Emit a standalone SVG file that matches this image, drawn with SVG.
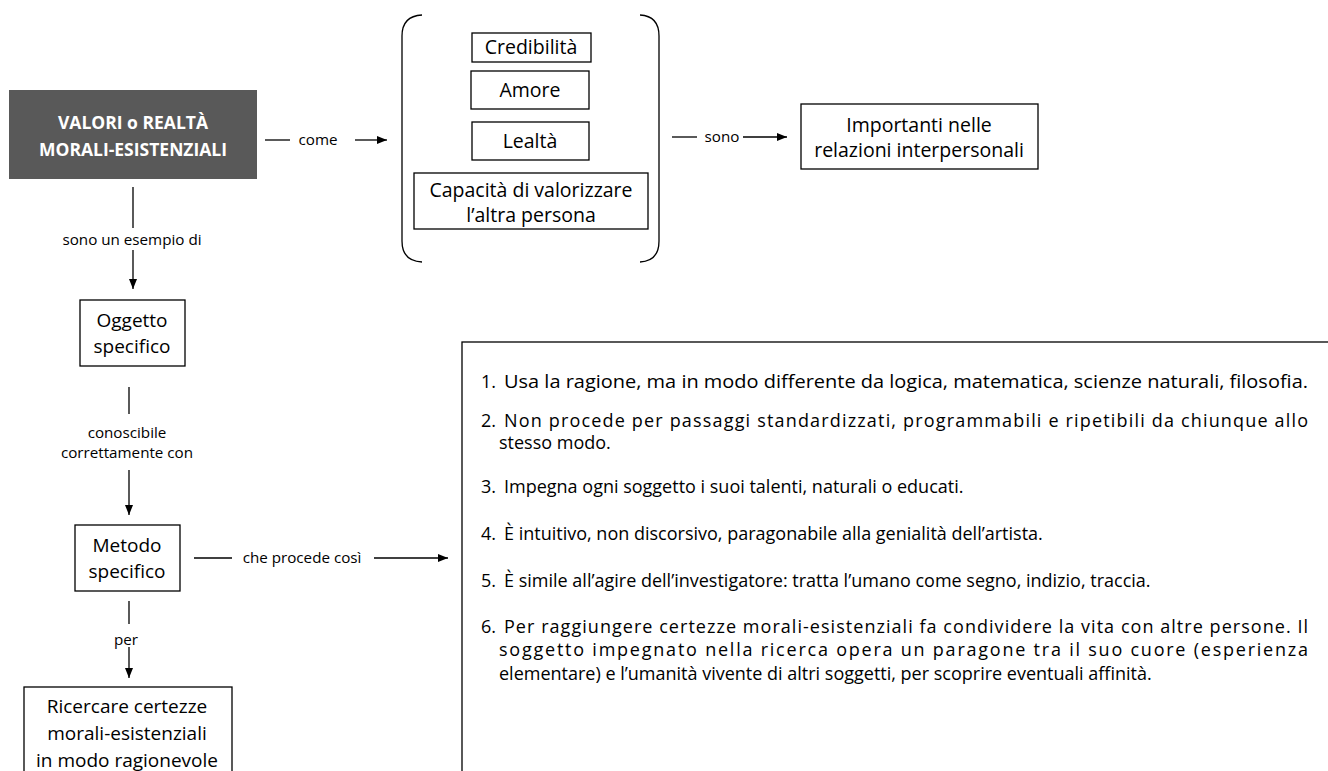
<svg xmlns="http://www.w3.org/2000/svg" width="1328" height="771" viewBox="0 0 1328 771">
<defs>
<marker id="ah" markerUnits="userSpaceOnUse" markerWidth="10" markerHeight="10" viewBox="0 0 10 10" refX="10" refY="5" orient="auto">
<path d="M0,1 L10,5 L0,9 Z" fill="#000"/>
</marker>
<style>
text{font-family:"Open Sans","Noto Sans","Liberation Sans",sans-serif;fill:#000;font-variant-ligatures:none}
.box{fill:#fff;stroke:#000;stroke-width:1.3}
.ln{stroke:#000;stroke-width:1.3;fill:none}
.arr{stroke:#000;stroke-width:1.3;fill:none;marker-end:url(#ah)}
.lbl{font-size:15.2px;text-anchor:middle}
.nd{font-size:19px;text-anchor:middle}
.bx{font-size:19.5px;text-anchor:middle}
.li{font-size:18px}
.title{font-size:17.5px;font-weight:bold;fill:#fff;text-anchor:middle}
</style>
</defs>
<rect width="1328" height="771" fill="#fff"/>

<g id="connectors">
<line class="ln" x1="265" y1="140" x2="290" y2="140"/>
<text class="lbl" x="318" y="145">come</text>
<line class="arr" x1="355" y1="140" x2="387" y2="140"/>

<line class="ln" x1="672" y1="137" x2="697" y2="137"/>
<text class="lbl" x="722" y="142">sono</text>
<line class="arr" x1="743" y1="137" x2="787" y2="137"/>

<line class="ln" x1="133" y1="187" x2="133" y2="228"/>
<text class="lbl" x="132" y="245">sono un esempio di</text>
<line class="arr" x1="133" y1="250" x2="133" y2="289"/>

<line class="ln" x1="129" y1="387" x2="129" y2="414"/>
<text class="lbl" x="127" y="438">conoscibile</text>
<text class="lbl" x="127" y="458">correttamente con</text>
<line class="arr" x1="129" y1="470" x2="129" y2="515"/>

<line class="ln" x1="194" y1="558" x2="232" y2="558"/>
<text class="lbl" x="302" y="563">che procede così</text>
<line class="arr" x1="374" y1="558" x2="448" y2="558"/>

<line class="ln" x1="129" y1="601" x2="129" y2="624"/>
<text class="lbl" x="126" y="645">per</text>
<line class="arr" x1="129" y1="647" x2="129" y2="678"/>
</g>

<g id="n-valori">
<rect x="9" y="90" width="248" height="89" fill="#595959"/>
<text class="title" x="133" y="129">VALORI o REALTÀ</text>
<text class="title" x="133" y="156">MORALI-ESISTENZIALI</text>
</g>

<g id="n-bracket">
<path class="ln" d="M422,15 Q402,16 402,36 L402,241 Q402,261 422,262"/>
<path class="ln" d="M640,15 Q659,16 659,36 L659,241 Q659,261 640,262"/>
</g>

<g id="n-credibilita">
<rect class="box" x="472" y="33" width="119" height="29"/>
<text class="bx" x="531" y="54">Credibilità</text>
</g>
<g id="n-amore">
<rect class="box" x="471" y="71" width="118" height="38"/>
<text class="bx" x="530" y="97">Amore</text>
</g>
<g id="n-lealta">
<rect class="box" x="472" y="122" width="117" height="38"/>
<text class="bx" x="530" y="148">Lealtà</text>
</g>
<g id="n-capacita">
<rect class="box" x="414" y="173" width="234" height="56"/>
<text class="bx" x="531" y="197">Capacità di valorizzare</text>
<text class="bx" x="531" y="222">l’altra persona</text>
</g>

<g id="n-importanti">
<rect class="box" x="801" y="104" width="237" height="65"/>
<text class="bx" x="919" y="132">Importanti nelle</text>
<text class="bx" x="919" y="157">relazioni interpersonali</text>
</g>

<g id="n-oggetto">
<rect class="box" x="80" y="300" width="105" height="66"/>
<text class="nd" x="132" y="327">Oggetto</text>
<text class="nd" x="132" y="353">specifico</text>
</g>

<g id="n-metodo">
<rect class="box" x="75" y="525" width="105" height="66"/>
<text class="nd" x="127" y="552">Metodo</text>
<text class="nd" x="127" y="578">specifico</text>
</g>

<g id="n-ricercare">
<rect class="box" x="24" y="687" width="208" height="100"/>
<text class="nd" x="127" y="713">Ricercare certezze</text>
<text class="nd" x="127" y="740">morali-esistenziali</text>
<text class="nd" x="127" y="767">in modo ragionevole</text>
</g>

<g id="n-lista">
<rect class="box" x="462" y="342" width="880" height="450"/>
<text class="li" x="481" y="388">1.</text>
<text class="li" x="504" y="388" textLength="804" lengthAdjust="spacingAndGlyphs">Usa la ragione, ma in modo differente da logica, matematica, scienze naturali, filosofia.</text>
<text class="li" x="481" y="427">2.</text>
<text class="li" x="504" y="427" textLength="804" lengthAdjust="spacing">Non procede per passaggi standardizzati, programmabili e ripetibili da chiunque allo</text>
<text class="li" x="499" y="449">stesso modo.</text>
<text class="li" x="481" y="493">3.</text>
<text class="li" x="504" y="493">Impegna ogni soggetto i suoi talenti, naturali o educati.</text>
<text class="li" x="481" y="540">4.</text>
<text class="li" x="504" y="540">È intuitivo, non discorsivo, paragonabile alla genialità dell’artista.</text>
<text class="li" x="481" y="587">5.</text>
<text class="li" x="504" y="587">È simile all’agire dell’investigatore: tratta l’umano come segno, indizio, traccia.</text>
<text class="li" x="481" y="633">6.</text>
<text class="li" x="504" y="633" textLength="804" lengthAdjust="spacing">Per raggiungere certezze morali-esistenziali fa condividere la vita con altre persone. Il</text>
<text class="li" x="499" y="656" textLength="809" lengthAdjust="spacing">soggetto impegnato nella ricerca opera un paragone tra il suo cuore (esperienza</text>
<text class="li" x="499" y="680">elementare) e l’umanità vivente di altri soggetti, per scoprire eventuali affinità.</text>
</g>
</svg>
